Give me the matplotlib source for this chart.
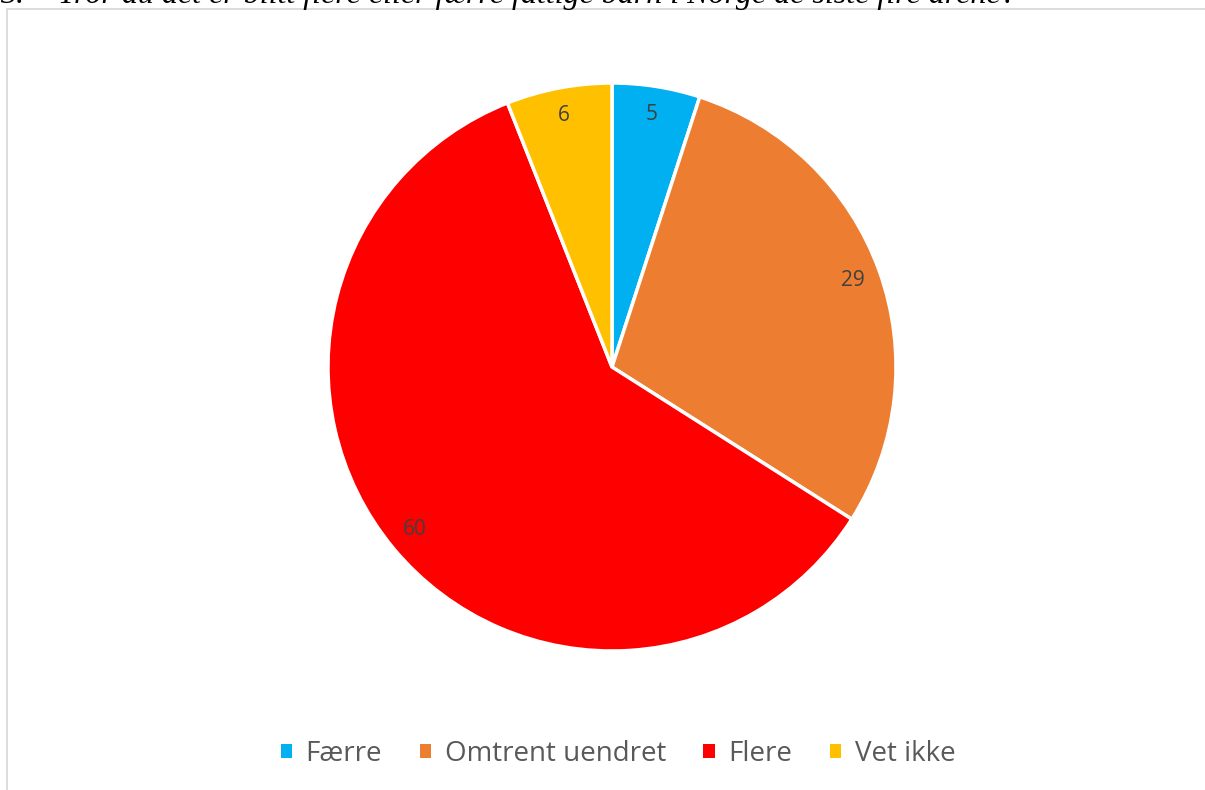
import matplotlib.pyplot as plt
from matplotlib.patches import Patch, Rectangle

# data
categories = ["Færre", "Omtrent uendret", "Flere", "Vet ikke"]
values = [5, 29, 60, 6]
colors = ["#00B0F0", "#ED7D31", "#FF0000", "#FFC000"]
question = "Tror du det er blitt flere eller færre fattige barn i Norge de siste fire årene?"

W, H = 1205, 790
fig = plt.figure(figsize=(W / 100, H / 100), dpi=100)

# spørsmålet over diagrammet (kuttet i toppen)
fig.text(0 / W, 1 - 3 / H, "3.", family="Liberation Serif", style="italic",
         fontsize=23, va="baseline", ha="left", color="black")
fig.text(58 / W, 1 - 3 / H, question, family="Liberation Serif", style="italic",
         fontsize=23, va="baseline", ha="left", color="black")

# ramme rundt diagrammet
fig.patches.append(Rectangle((7 / W, -0.1), 1.2, 1.1 - 9 / H, transform=fig.transFigure,
                             fill=False, edgecolor="#D9D9D9", lw=1.3))

# kakediagram
cx, cy, r = 612, 367, 284
ax = fig.add_axes([(cx - r) / W, (H - cy - r) / H, 2 * r / W, 2 * r / H])
vals = iter(values)
wedges, texts, autotexts = ax.pie(
    values, colors=colors, startangle=90, counterclock=False,
    wedgeprops=dict(edgecolor="white", linewidth=2.5),
    autopct=lambda p: str(next(vals)), pctdistance=0.9,
    textprops=dict(color="#404040", fontsize=15, family="Open Sans"))
ax.set_xlim(-1, 1)
ax.set_ylim(-1, 1)
ax.set_aspect("equal")

# tegnforklaring
handles = [Patch(facecolor=c, edgecolor="none") for c in colors]
fig.legend(handles, categories, loc="center", bbox_to_anchor=(618 / W, 1 - 754 / H),
           ncol=4, frameon=False, prop=dict(family="Open Sans", size=20),
           labelcolor="#595959", handlelength=0.4, handleheight=0.4,
           handletextpad=0.5, columnspacing=1.35)

fig.savefig("out.png", dpi=100)
